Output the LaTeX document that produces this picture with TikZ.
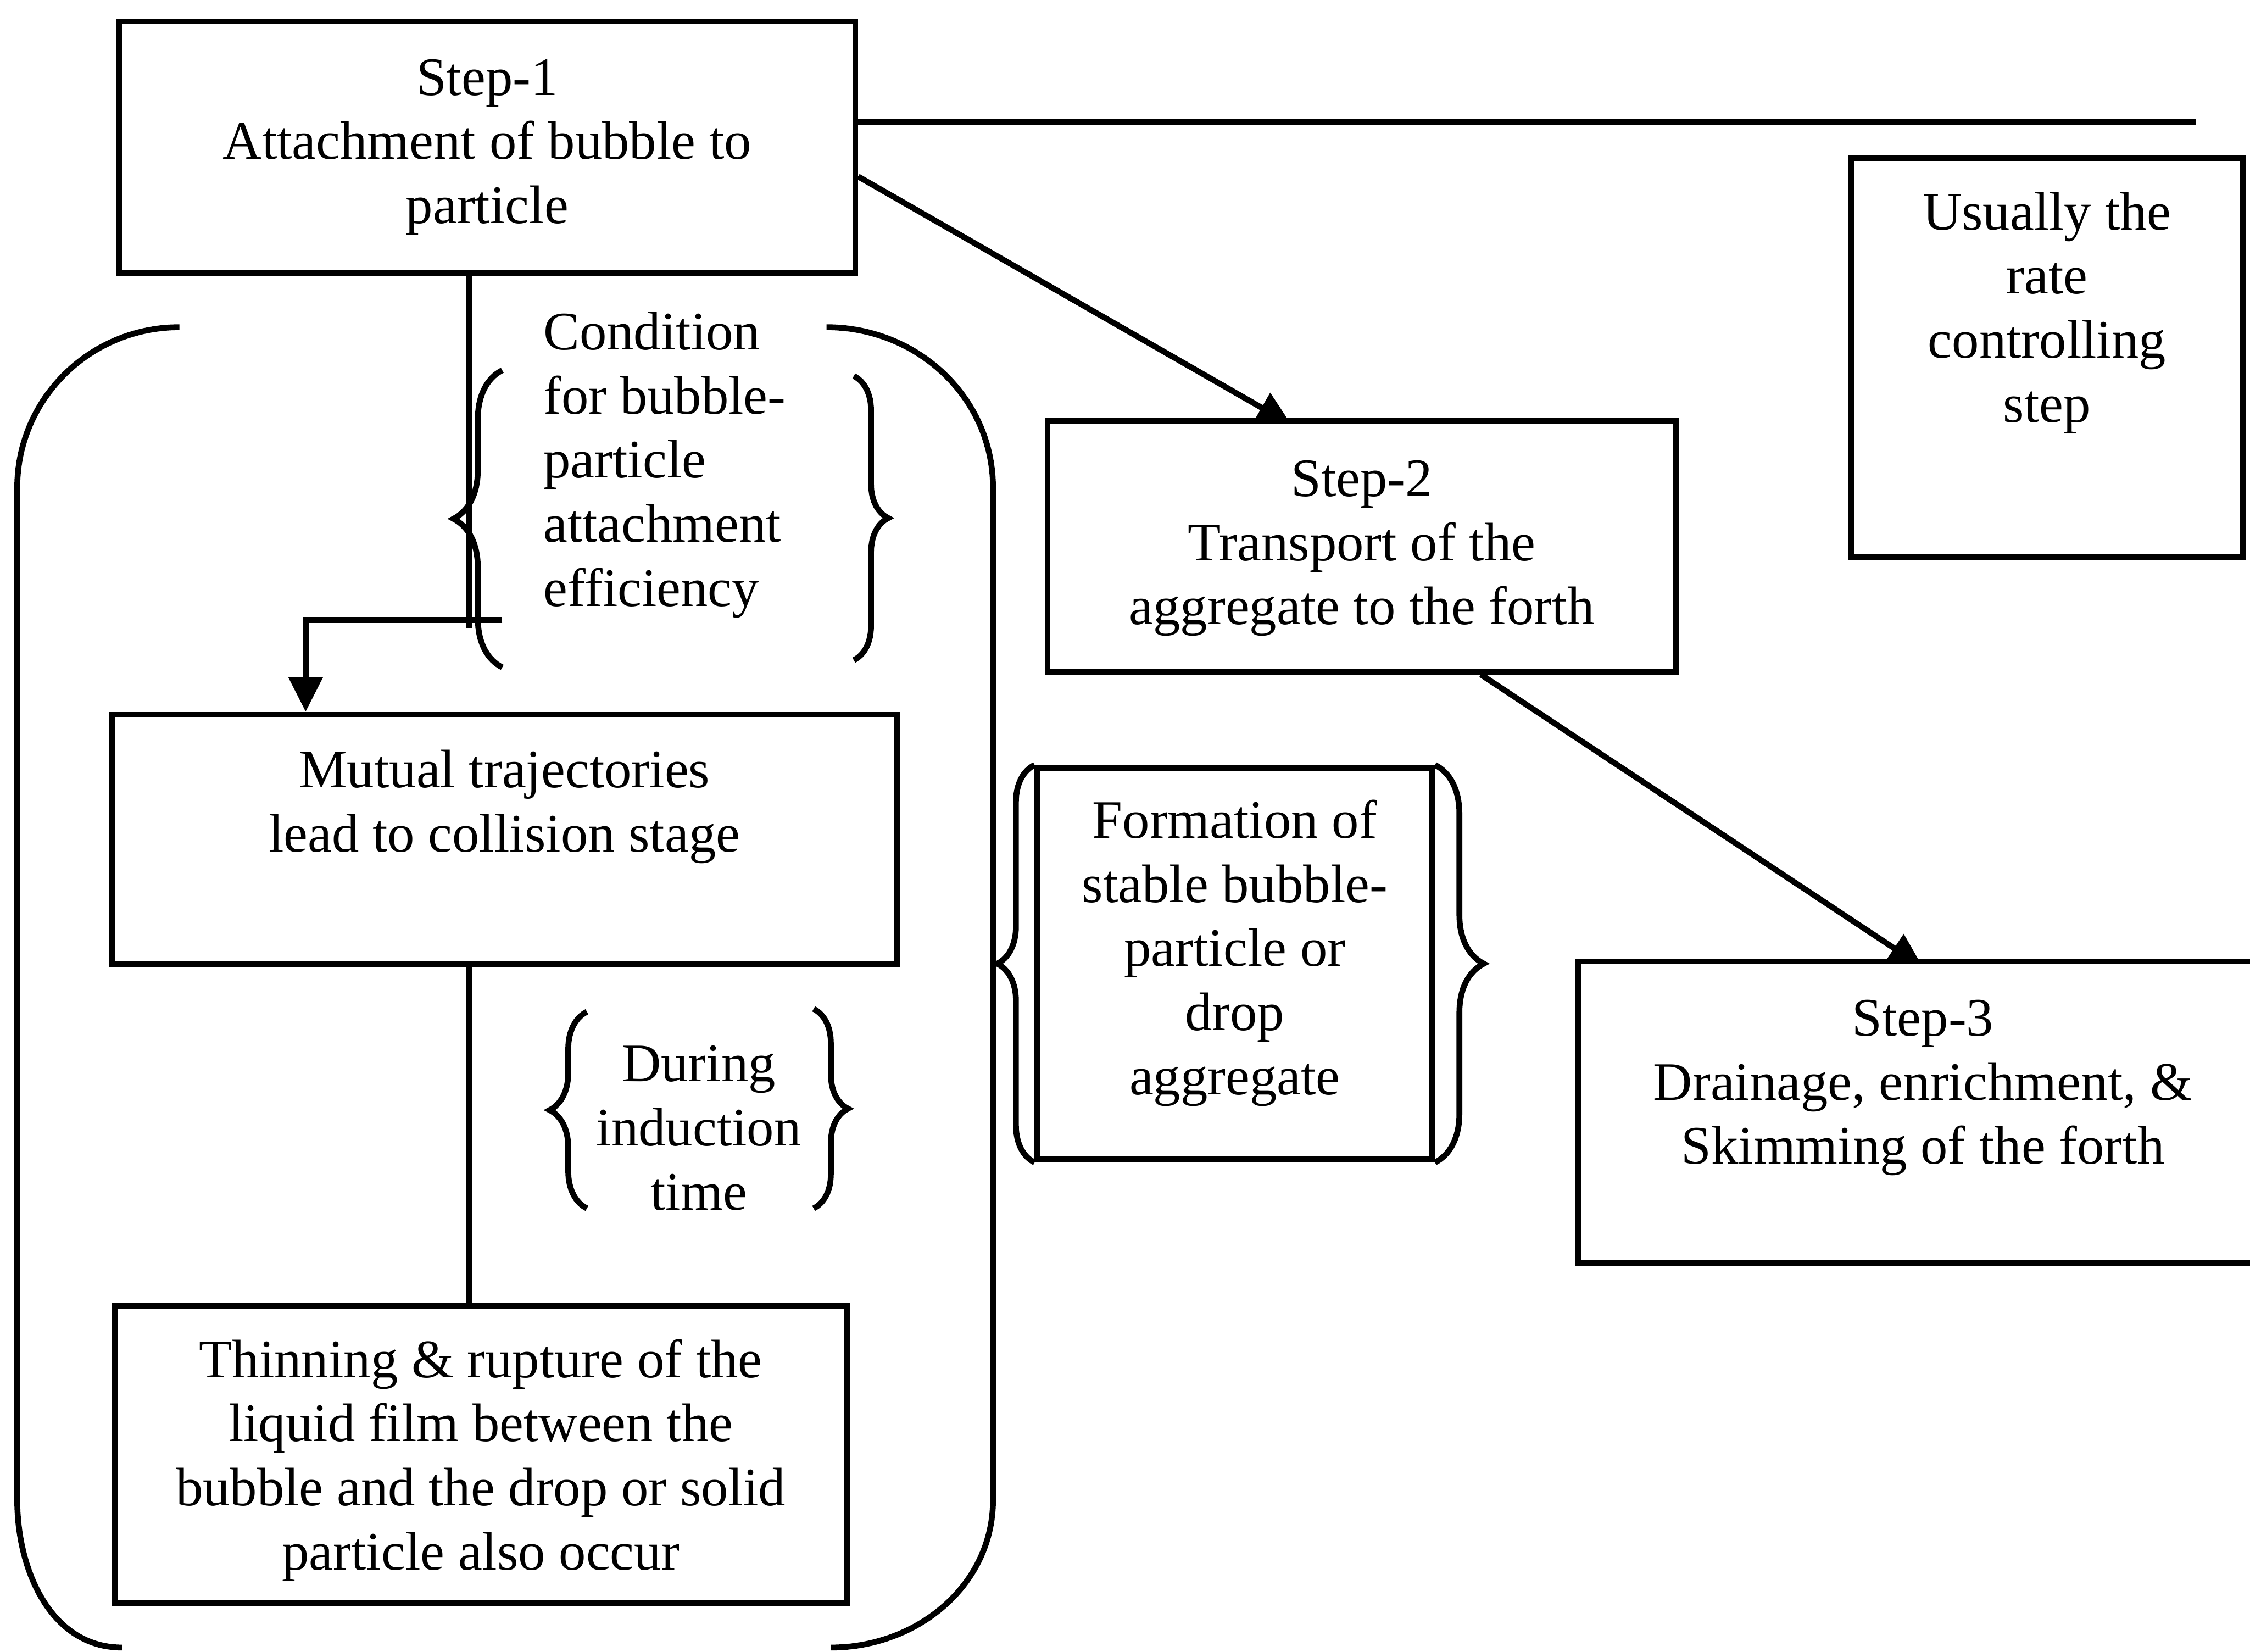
\documentclass[tikz,border=0pt]{standalone}
\usepackage{fontspec}
\setmainfont{Liberation Serif}
\usetikzlibrary{arrows.meta,decorations.pathreplacing,backgrounds}

\tikzset{
  stepbox/.style={draw, fill=white, line width=1.15pt, align=center, inner sep=0pt},
  link/.style={line width=1.15pt},
  arrowlink/.style={link, -{Triangle[length=2.4mm,width=2.3mm]}},
  curly/.style={decorate, decoration={brace, amplitude=#1}},
}

\begin{document}
\begin{tikzpicture}[font=\fontsize{10.75pt}{12.7pt}\selectfont]
  \useasboundingbox (0,0) rectangle (15.68,11.51);

  %% Steps
  \node[stepbox, minimum width=5.13cm, minimum height=1.75cm] (step1) at (3.395,10.485)
    {Step-1\\Attachment of bubble to\\particle};
  \node[stepbox, minimum width=4.38cm, minimum height=1.75cm, text depth=0.5mm] (step2) at (9.49,7.705)
    {Step-2\\Transport of the\\aggregate to the forth};
  \node[stepbox, minimum width=4.80cm, minimum height=2.10cm, text depth=4.2mm] (step3) at (13.40,3.76)
    {Step-3\\Drainage, enrichment, \&\\Skimming of the forth};
  \node[stepbox, minimum width=2.73cm, minimum height=2.78cm, text depth=7mm] (rate) at (14.265,9.02)
    {Usually the\\rate\\controlling\\step};

  %% Inside step 1
  \node[stepbox, minimum width=5.47cm, minimum height=1.74cm, text depth=5.4mm] (collide) at (3.515,5.66)
    {Mutual trajectories\\lead to collision stage};
  \node[stepbox, minimum width=5.10cm, minimum height=2.07cm, text depth=0mm] (film) at (3.35,1.375)
    {Thinning \& rupture of the\\liquid film between the\\bubble and the drop or solid\\particle also occur};
  \node[stepbox, minimum width=2.75cm, minimum height=2.73cm, text depth=2.3mm] (aggr) at (8.605,4.795)
    {Formation of\\stable bubble-\\particle or\\drop\\aggregate};

  %% Notes
  \node[align=left, anchor=west, inner sep=0pt] (cond) at (3.78,8.27)
    {Condition\\for bubble-\\particle\\attachment\\efficiency};
  \node[align=center] (induct) at (4.87,3.65) {During\\induction\\time};

  %% Arrows between the steps
  \begin{pgfonlayer}{background}
    \draw[arrowlink] ([yshift=-2.05mm]step1.east) -- ([shift={(-4.9mm,-0.5mm)}]step2.north);
    \draw[arrowlink] ([xshift=8.3mm]step2.south) -- ([yshift=-0.6mm]step3.north);
  \end{pgfonlayer}

  \coordinate (bend) at (3.27,7.19);
  \coordinate (drop) at (2.13,7.19);
  \coordinate (lineend) at (15.30,10.66);
  \draw[link] (step1.east |- lineend) -- (lineend);
  \draw[link] (step1.south -| bend) -- ([yshift=-0.6mm]bend);
  \draw[arrowlink] ([xshift=2.3mm]bend) -- (drop) -- (drop |- collide.north);
  \draw[link] (collide.south -| bend) -- (film.north -| bend);

  %% Rounded bracket round the stages
  \draw[link] (1.25,9.23) to[out=180,in=90] (0.12,8.11) -- (0.12,1.06) to[out=-90,in=180] (0.85,0.03);
  \draw[link] (5.76,9.23) to[out=0,in=90] (6.92,8.11) -- (6.92,1.06) to[out=-90,in=0] (5.79,0.03);

  %% Braces
  \draw[link, curly=3.4mm] (3.50,6.86) -- (3.50,8.93);
  \draw[link, curly=2.4mm] (5.95,8.89) -- (5.95,6.91);
  \draw[link, curly=2.6mm] (4.09,3.09) -- (4.09,4.46);
  \draw[link, curly=2.4mm] (5.67,4.48) -- (5.67,3.09);
  \draw[link, curly=2.6mm] (aggr.south west) -- (aggr.north west);
  \draw[link, curly=3.4mm] (aggr.north east) -- (aggr.south east);

\end{tikzpicture}
\end{document}
